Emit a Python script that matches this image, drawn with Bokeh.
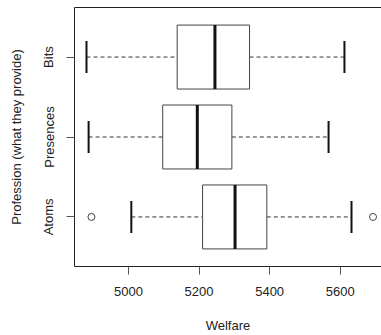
from bokeh.plotting import figure
from bokeh.models import Range1d, FixedTicker, LinearAxis
from bokeh.embed import file_html
from bokeh.resources import INLINE

categories = ["Atoms", "Presences", "Bits"]
cat_pos = [1, 2, 3]
whisk_lo = [5008, 4887, 4881]
q1 = [5210, 5097, 5138]
median = [5302, 5195, 5245]
q3 = [5392, 5293, 5343]
whisk_hi = [5632, 5567, 5612]
outlier_x = [4895, 5693]
outlier_cat = [1, 1]
x_ticks = [5000, 5200, 5400, 5600]

FONT = "Liberation Sans"
BOX_H = 0.8
CAP_H = 0.4

p = figure(width=381, height=335, output_backend="svg", toolbar_location=None,
           x_range=Range1d(4847, 5717), y_range=Range1d(0.38, 3.62),
           min_border_left=74, min_border_right=0, min_border_top=7, min_border_bottom=67,
           x_axis_location=None, y_axis_location=None)
p.outline_line_color = None
p.grid.visible = False
p.background_fill_color = "white"

# axes
xa = LinearAxis(ticker=FixedTicker(ticks=x_ticks), axis_label="Welfare")
ya = LinearAxis(ticker=FixedTicker(ticks=cat_pos), axis_label="Profession (what they provide)")
ya.major_label_overrides = {c: n for c, n in zip(cat_pos, categories)}
ya.major_label_orientation = "vertical"
for ax in (xa, ya):
    ax.axis_line_color = "#222222"
    ax.major_tick_line_color = "#555555"
    ax.major_tick_out = 8
    ax.major_tick_in = 0
    ax.minor_tick_line_color = None
    ax.major_label_text_font = FONT
    ax.major_label_text_font_size = "13px"
    ax.major_label_text_color = "#222222"
    ax.axis_label_text_font = FONT
    ax.axis_label_text_font_size = "13px"
    ax.axis_label_text_font_style = "normal"
    ax.axis_label_text_color = "#222222"
xa.major_label_standoff = 12
xa.axis_label_standoff = 19
ya.major_label_standoff = 10
ya.axis_label_standoff = 15
p.add_layout(xa, "below")
p.add_layout(ya, "left")
top = LinearAxis(ticker=FixedTicker(ticks=[]), axis_line_color="#222222",
                 major_label_text_font_size="0px", minor_tick_line_color=None)
p.add_layout(top, "above")

# whiskers
p.segment(x0=whisk_lo, y0=cat_pos, x1=q1, y1=cat_pos, line_color="#333333",
          line_width=1, line_dash="4 3")
p.segment(x0=q3, y0=cat_pos, x1=whisk_hi, y1=cat_pos, line_color="#333333",
          line_width=1, line_dash="4 3")
# caps
cap_lo = [c - CAP_H / 2 for c in cat_pos]
cap_hi = [c + CAP_H / 2 for c in cat_pos]
p.segment(x0=whisk_lo, y0=cap_lo, x1=whisk_lo, y1=cap_hi, line_color="#111111", line_width=2)
p.segment(x0=whisk_hi, y0=cap_lo, x1=whisk_hi, y1=cap_hi, line_color="#111111", line_width=2)
# boxes
p.hbar(y=cat_pos, left=q1, right=q3, height=BOX_H, fill_color="white",
       line_color="#444444", line_width=1)
# medians
med_lo = [c - BOX_H / 2 for c in cat_pos]
med_hi = [c + BOX_H / 2 for c in cat_pos]
p.segment(x0=median, y0=med_lo, x1=median, y1=med_hi, line_color="#111111", line_width=3)
# outliers
p.scatter(x=outlier_x, y=outlier_cat, size=7, fill_color=None, line_color="#444444",
          line_width=1)

open("out.html", "w").write(file_html(p, INLINE))
